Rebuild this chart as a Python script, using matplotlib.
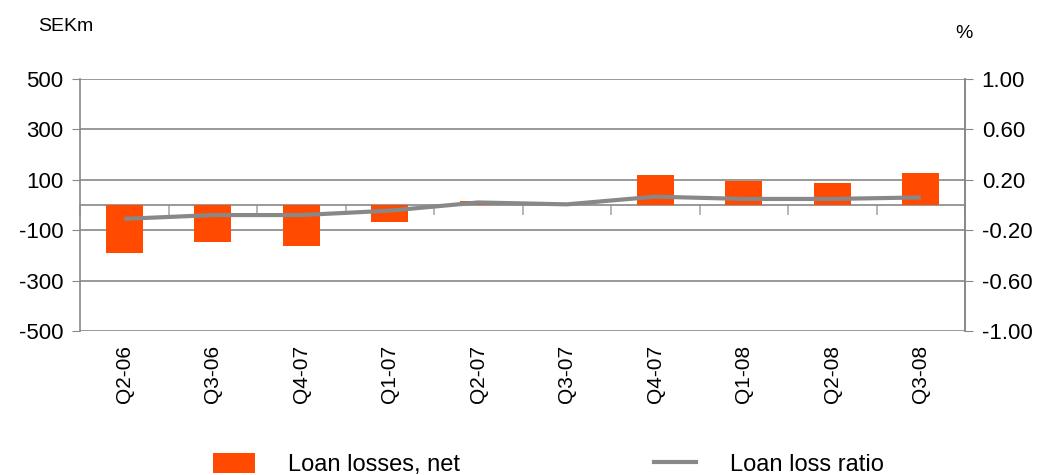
import matplotlib.pyplot as plt
import numpy as np
from matplotlib.patches import Patch
from matplotlib.lines import Line2D

plt.rcParams['font.family'] = ['Liberation Sans', 'DejaVu Sans']

quarters = ["Q2-06", "Q3-06", "Q4-07", "Q1-07", "Q2-07",
            "Q3-07", "Q4-07", "Q1-08", "Q2-08", "Q3-08"]
loan_losses = [-189, -146, -161, -66, 16, 2, 119, 95, 87, 127]
loss_ratio = [-0.11, -0.08, -0.08, -0.045, 0.02, 0.005, 0.066, 0.048, 0.048, 0.06]

left_ticks = [-500, -300, -100, 100, 300, 500]
right_ticks = [-1.0, -0.6, -0.2, 0.2, 0.6, 1.0]

GRAY = "#888888"
ORANGE = "#FF4A00"

fig = plt.figure(figsize=(10.46, 4.75), dpi=100)
ax = fig.add_axes([0.0765, 0.3032, 0.8461, 0.5305])
x = np.arange(len(quarters))

ax.bar(x, loan_losses, width=0.42, color=ORANGE, zorder=2)
ax.set_xlim(-0.5, len(quarters) - 0.5)
ax.set_ylim(-500, 500)
ax.set_yticks(left_ticks)
ax.set_yticklabels([str(v) for v in left_ticks], fontsize=16)
for v in left_ticks + [0]:
    ax.axhline(v, color=GRAY, lw=1.2, zorder=1)

ax.set_xticks(x)
ax.set_xticklabels(quarters, rotation=90, fontsize=15)
ax.tick_params(axis='x', length=0, pad=10)
ax.tick_params(axis='y', length=6, color=GRAY, pad=6)
for s in ['top', 'bottom']:
    ax.spines[s].set_visible(False)
for s in ['left', 'right']:
    ax.spines[s].set_color(GRAY)
    ax.spines[s].set_linewidth(1.2)

# category boundary ticks hanging below the zero line
sec = ax.secondary_xaxis(0.5)
sec.set_xticks(np.arange(len(quarters) + 1) - 0.5)
sec.set_xticklabels([])
sec.tick_params(axis='x', length=7, color="#AAAAAA", width=1.2, direction='in')
for s in sec.spines.values():
    s.set_visible(False)

ax2 = ax.twinx()
ax2.plot(x, loss_ratio, color=GRAY, lw=3, solid_joinstyle='round',
         solid_capstyle='butt', zorder=3)
ax2.set_ylim(-1, 1)
ax2.set_yticks(right_ticks)
ax2.set_yticklabels([f"{v:.2f}" for v in right_ticks], fontsize=16)
ax2.tick_params(axis='y', length=6, color=GRAY, pad=6)
for s in ['top', 'bottom', 'left']:
    ax2.spines[s].set_visible(False)
ax2.spines['right'].set_color(GRAY)
ax2.spines['right'].set_linewidth(1.2)

fig.text(0.036, 0.945, "SEKm", fontsize=14, va='center', ha='left')
fig.text(0.922, 0.93, "%", fontsize=14, va='center', ha='center')

handles = [Patch(facecolor=ORANGE, edgecolor='none'),
           Line2D([0], [0], color=GRAY, lw=3)]
fig.legend(handles, ["Loan losses, net", "Loan loss ratio"], ncol=2,
           loc='lower center', bbox_to_anchor=(0.524, -0.047), frameon=False,
           fontsize=17, handlelength=1.8, handleheight=0.9,
           columnspacing=8.2, handletextpad=1.4)

fig.savefig("out.png", dpi=100)
